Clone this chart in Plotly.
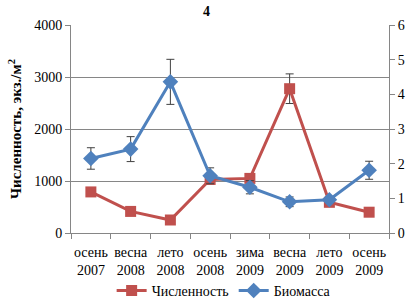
import plotly.graph_objects as go

categories = ["осень<br>2007", "весна<br>2008", "лето<br>2008", "осень<br>2008",
              "зима<br>2009", "весна<br>2009", "лето<br>2009", "осень<br>2009"]
abundance = [790, 415, 250, 1030, 1050, 2775, 590, 400]
abundance_err = [0, 0, 0, 0, 0, 285, 0, 0]
biomass = [2.15, 2.42, 4.36, 1.65, 1.32, 0.90, 0.96, 1.81]
biomass_err = [0.31, 0.36, 0.65, 0.23, 0.19, 0.14, 0.09, 0.26]

RED = "#C0504D"
BLUE = "#4F81BD"
FONT = "Times New Roman, Liberation Serif, DejaVu Serif, serif"
AX = "#868686"

fig = go.Figure()
fig.add_trace(go.Scatter(
    x=categories, y=abundance, name="Численность", mode="lines+markers",
    line=dict(color=RED, width=3),
    marker=dict(symbol="square", size=11, color=RED),
    error_y=dict(type="data", array=abundance_err, color="#404040", thickness=1, width=4),
    yaxis="y",
))
fig.add_trace(go.Scatter(
    x=categories, y=biomass, name="Биомасса", mode="lines+markers",
    line=dict(color=BLUE, width=3),
    marker=dict(symbol="diamond", size=12, color=BLUE),
    error_y=dict(type="data", array=biomass_err, color="#404040", thickness=1, width=4),
    yaxis="y2",
))

tf = dict(family=FONT, size=14, color="#000000")

fig.update_layout(
    width=413, height=304,
    margin=dict(l=71, r=24, t=25, b=71, autoexpand=False),
    paper_bgcolor="white", plot_bgcolor="white",
    font=dict(family=FONT, size=14, color="#000000"),
    title=dict(text="<b>4</b>", x=0.5, xanchor="center", y=0.965, yanchor="middle",
               font=dict(family=FONT, size=14, color="#000000")),
    showlegend=True,
    legend=dict(orientation="h", x=0.48, xanchor="center", yref="container",
                y=0.043, yanchor="middle",
                font=tf, itemwidth=30, bgcolor="rgba(0,0,0,0)"),
    xaxis=dict(
        type="category", tickson="boundaries", ticks="outside", ticklen=5,
        tickcolor=AX, showline=True, linecolor=AX, linewidth=1, tickangle=0,
        showgrid=False, tickfont=tf, range=[-0.5, 7.5], automargin=False,
        ticklabelstandoff=6,
    ),
    yaxis=dict(
        range=[0, 4000], dtick=1000, ticks="outside", ticklen=5, tickcolor=AX,
        showline=True, linecolor=AX, linewidth=1, automargin=False,
        showgrid=True, gridcolor=AX, gridwidth=1, zeroline=False,
        tickfont=tf,
        title=dict(text="<b>Численность, экз./м<sup>2</sup></b>",
                   font=dict(family=FONT, size=15, color="#000000"), standoff=8),
    ),
    yaxis2=dict(
        range=[0, 6], dtick=1, overlaying="y", side="right", ticks="outside",
        ticklen=5, tickcolor=AX, showline=True, linecolor=AX, automargin=False,
        linewidth=1, showgrid=False, zeroline=False,
        tickfont=tf,
    ),
)

fig.write_html("out.html", config={"displayModeBar": False},
               post_script="document.body.style.margin='0';")
